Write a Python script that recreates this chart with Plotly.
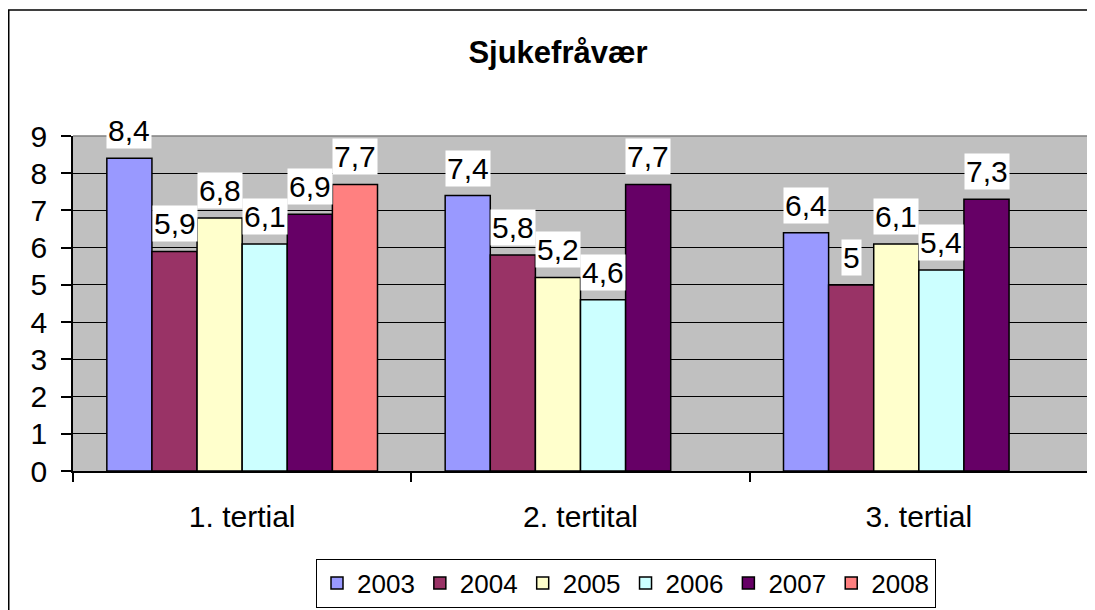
import plotly.graph_objects as go

categories = ["1. tertial", "2. tertital", "3. tertial"]
years = ["2003", "2004", "2005", "2006", "2007", "2008"]
values = {
    "2003": [8.4, 7.4, 6.4],
    "2004": [5.9, 5.8, 5.0],
    "2005": [6.8, 5.2, 6.1],
    "2006": [6.1, 4.6, 5.4],
    "2007": [6.9, 7.7, 7.3],
    "2008": [7.7, None, None],
}
colors = ["#9999FF", "#993366", "#FFFFCC", "#CCFFFF", "#660066", "#FF8080"]
y_ticks = list(range(0, 10))

FONT = "Liberation Sans, Arial, sans-serif"
OFF = 8  # page body margin
W, H = 1095 - OFF, 610 - OFF
L, T = 73 - OFF, 136 - OFF
PR, PB = 1088 - OFF, 471 - OFF
R, B = W - PR, H - PB
PW, PH = PR - L, PB - T
BARGAP = 0.2


def fmt(v):
    if float(v).is_integer():
        return str(int(v))
    return ("%g" % v).replace(".", ",")


def px_x(p):
    return (p - OFF - L) / PW


def px_y(p):
    return (PB - (p - OFF)) / PH


fig = go.Figure()
for i, yr in enumerate(years):
    fig.add_trace(go.Bar(
        name=yr, x=categories, y=values[yr],
        marker=dict(color=colors[i], line=dict(color="black", width=1.5)),
    ))

n = len(years)
bw = (1 - BARGAP) / n
annotations = []
for i, yr in enumerate(years):
    off = -(1 - BARGAP) / 2 + (i + 0.5) * bw
    for j, v in enumerate(values[yr]):
        if v is None:
            continue
        annotations.append(dict(
            x=j + off, y=v, xref="x", yref="y", text=fmt(v),
            showarrow=False, yanchor="bottom", yshift=9,
            font=dict(family=FONT, size=30, color="black"),
            bgcolor="white", borderpad=1,
        ))

shapes = [
    # outer chart border (left and top visible)
    dict(type="rect", xref="paper", yref="paper",
         x0=(0.75 - L) / PW, x1=px_x(1120), y0=px_y(10), y1=px_y(640),
         line=dict(color="black", width=1.5), layer="below"),
    # plot area top and right borders (gray)
    dict(type="line", xref="paper", yref="paper", x0=0, x1=1, y0=1, y1=1,
         line=dict(color="#808080", width=1.5), layer="above"),
    dict(type="line", xref="paper", yref="paper", x0=1, x1=1, y0=0, y1=1,
         line=dict(color="#808080", width=1.5), layer="above"),
]

fig.update_layout(
    template="none",
    width=W, height=H,
    margin=dict(l=L, r=R, t=T, b=B, autoexpand=False),
    paper_bgcolor="white", plot_bgcolor="#C0C0C0",
    barmode="group", bargap=BARGAP, bargroupgap=0,
    font=dict(family=FONT, size=30, color="black"),
    title=dict(text="<b>Sjukefråvær</b>", x=(558 - OFF) / W, xref="container", xanchor="center",
               y=1 - (52 - OFF) / H, yref="container", yanchor="middle",
               font=dict(family=FONT, size=31, color="black")),
    showlegend=True,
    legend=dict(orientation="h", x=px_x(626), xanchor="center",
                y=px_y(583), yanchor="middle",
                bgcolor="white", bordercolor="black", borderwidth=1,
                font=dict(family=FONT, size=26, color="black"),
                itemwidth=30, traceorder="normal", tracegroupgap=0),
    annotations=annotations,
    shapes=shapes,
)
fig.update_xaxes(
    automargin=False,
    showline=True, linecolor="black", linewidth=1.5,
    ticks="outside", tickson="boundaries", ticklen=9, tickcolor="black", tickwidth=1.5,
    ticklabelstandoff=18, showgrid=False,
    tickfont=dict(family=FONT, size=30, color="black"),
)
fig.update_yaxes(
    automargin=False,
    range=[0, 9], tickvals=y_ticks, ticktext=[str(t) for t in y_ticks],
    showline=True, linecolor="black", linewidth=1.5,
    ticks="outside", ticklen=10, tickcolor="black", tickwidth=1.5,
    ticklabelstandoff=8,
    showgrid=True, gridcolor="black", gridwidth=1, zeroline=False,
    tickfont=dict(family=FONT, size=30, color="black"),
)

fig.write_html("out.html")
